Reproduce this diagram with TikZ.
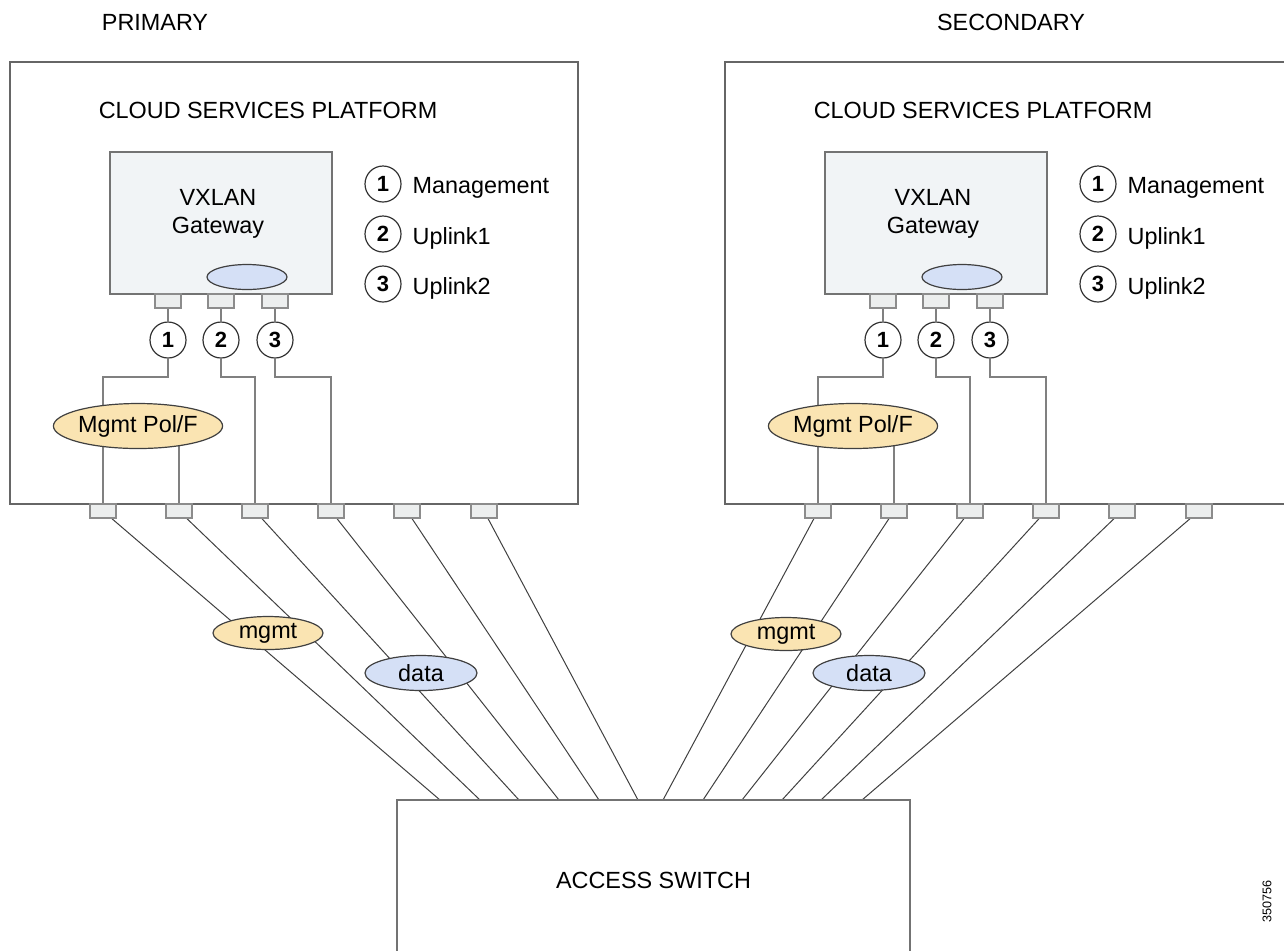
\documentclass[tikz,border=0pt]{standalone}
\usepackage{fontspec}
\setmainfont{Liberation Sans}
\usetikzlibrary{shapes.geometric,positioning}
\pgfdeclarelayer{bg}
\pgfsetlayers{bg,main}
\definecolor{polfill}{RGB}{250,228,178}
\definecolor{lanfill}{RGB}{213,224,246}
\definecolor{gwfill}{RGB}{241,244,246}
\definecolor{portfill}{RGB}{236,238,238}

\begin{document}
\begin{tikzpicture}[x=0.5pt, y=-0.5pt,
    every node/.style={font=\fontsize{11.7}{14}\selectfont},
    platform/.style={draw=black!60, line width=0.7pt, minimum width=284pt, minimum height=221pt},
    gateway/.style={draw=black!55, fill=gwfill, line width=0.7pt, minimum width=111pt, minimum height=71pt},
    port/.style={draw=black!45, fill=portfill, line width=0.6pt, minimum width=13pt, minimum height=7pt, inner sep=0pt},
    num/.style={circle, draw=black!80, line width=0.6pt, minimum size=18pt, inner sep=0pt,
                font=\fontsize{11}{12}\selectfont\bfseries},
    tag/.style={ellipse, draw=black!75, line width=0.6pt, inner sep=0pt},
    wire/.style={draw=black!50, line width=0.6pt},
    link/.style={draw=black!75, line width=0.5pt}]

  \useasboundingbox (0,0) rectangle (1284,950);

  \node (prim) at (155,22) {PRIMARY};
  \node (sec) at (1011,22) {SECONDARY};

  % access switch and the ends of its links
  \node[draw=black!55, line width=0.7pt, minimum width=256.5pt, minimum height=80pt] (switch) at (653.5,880) {ACCESS SWITCH};
  \foreach \i/\x in {1/440,2/480,3/519,4/559,5/599,6/638}
    \coordinate (swL\i) at (\x,800);
  \foreach \i/\x in {1/663,2/703,3/742,4/782,5/821,6/862}
    \coordinate (swR\i) at (\x,800);

  % the two platforms
  \foreach \p/\dx in {L/0,R/715}{
    \begin{scope}[shift={(\dx,0)}]
      \node[platform] (plat\p) at (294,283) {};
      \node (cloud\p) at (268,110) {CLOUD SERVICES PLATFORM};

      \node[gateway] (gw\p) at (221,223) {};
      \node[align=center] (gwtext\p) at (218,214) {VXLAN\\Gateway};
      \node[tag, fill=lanfill, minimum width=40pt, minimum height=12.5pt] (lan\p) at (247,277) {};

      \node[port] (gport\p1) at (168,301) {};
      \node[port] (gport\p2) at (221,301) {};
      \node[port] (gport\p3) at (275,301) {};
      \node[num] (circ\p1) at (168,340) {1};
      \node[num] (circ\p2) at (221,340) {2};
      \node[num] (circ\p3) at (275,340) {3};

      % legend
      \node[num] (key\p1) at (383,184) {1};
      \node[num] (key\p2) at (383,234) {2};
      \node[num] (key\p3) at (383,284) {3};
      \node[right=2pt of key\p1, yshift=-2pt] (mgmtkey\p) {Management};
      \node[right=2pt of key\p2, yshift=-2pt] (up1key\p) {Uplink1};
      \node[right=2pt of key\p3, yshift=-2pt] (up2key\p) {Uplink2};

      \node[tag, fill=polfill, minimum width=77.5pt, minimum height=22.5pt] (pol\p) at (138,426) {Mgmt Pol/F};

      \foreach \i/\x in {1/103,2/179,3/255,4/331,5/407,6/484}
        \node[port] (port\p\i) at (\x,511) {};

      \coordinate (turn\p1) at (103,377);
      \coordinate (turn\p2) at (255,377);
      \coordinate (turn\p3) at (331,377);

      \begin{pgfonlayer}{bg}
        \draw[wire] (gport\p1) -- (circ\p1) (gport\p2) -- (circ\p2) (gport\p3) -- (circ\p3);
        \draw[wire] (circ\p1) |- (turn\p1) -- (port\p1);
        \draw[wire] (pol\p -| port\p2) -- (port\p2);
        \draw[wire] (circ\p2) |- (turn\p2) -- (port\p3);
        \draw[wire] (circ\p3) |- (turn\p3) -- (port\p4);
      \end{pgfonlayer}
    \end{scope}
    \begin{pgfonlayer}{bg}
      \foreach \i in {1,...,6}
        \draw[link] (port\p\i) -- (sw\p\i);
    \end{pgfonlayer}
  }

  \node[tag, fill=polfill, minimum width=55pt, minimum height=16.5pt] (mgmtL) at (268,633) {mgmt};
  \node[tag, fill=lanfill, minimum width=56pt, minimum height=17.5pt] (dataL) at (421,673) {data};
  \node[tag, fill=polfill, minimum width=55pt, minimum height=16.5pt] (mgmtR) at (786,634) {mgmt};
  \node[tag, fill=lanfill, minimum width=56pt, minimum height=17.5pt] (dataR) at (869,673) {data};

  \node[rotate=90, font=\fontsize{6.3}{7}\selectfont] (figid) at (1267,901) {350756};
\end{tikzpicture}
\end{document}
